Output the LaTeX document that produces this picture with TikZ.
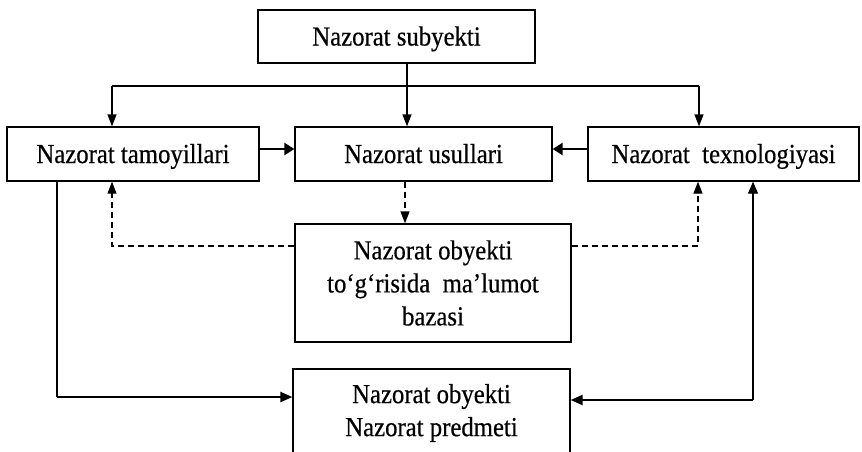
\documentclass[tikz,border=0pt]{standalone}
\usepackage{fontspec}
\setmainfont{Liberation Serif}[FakeStretch=0.9,FakeBold=0.5]
\usetikzlibrary{arrows.meta}
\begin{document}
\begin{tikzpicture}[x=1pt,y=-1pt,
  box/.style={draw,line width=1.3pt,inner sep=0pt,align=center,
    font=\fontsize{27.5}{33}\selectfont},
  oneline/.style={text height=18pt,text depth=0pt},
  link/.style={line width=1.3pt,-{Triangle[length=12pt,width=9pt]}},
  boldlink/.style={line width=2.8pt,-{Triangle[length=10pt,width=12pt]}},
  objlink/.style={line width=2.2pt,-{Triangle[length=12pt,width=10pt]}},
  infolink/.style={line width=1.3pt,dash pattern=on 6pt off 4pt,-{Triangle[length=12pt,width=9pt]}}
]
\useasboundingbox (0,0) rectangle (862,451);
\clip (0,0) rectangle (862,451);

% boxes
\node[box,oneline,minimum width=277,minimum height=53] (subj) at (396.5,36.5) {Nazorat subyekti};
\node[box,oneline,minimum width=252,minimum height=54] (princ) at (133,154) {Nazorat tamoyillari};
\node[box,oneline,minimum width=257,minimum height=54] (meth) at (423.5,154) {Nazorat usullari};
\node[box,oneline,minimum width=271,minimum height=54] (tech) at (723.5,154) {Nazorat~~texnologiyasi};
\node[box,minimum width=276,minimum height=118] (base) at (433,283)
  {Nazorat obyekti\\to‘g‘risida~~ma’lumot\\bazasi};
\node[box,minimum width=277,minimum height=88] (obj) at (431.5,413)
  {Nazorat obyekti\\Nazorat predmeti};

% distribution from the subject
\coordinate (hub) at (407,86);
\coordinate (hl) at (112,86);
\coordinate (hr) at (699,86);
\draw[line width=1.3pt] (subj.south -| hub) -- (hub);
\draw[line width=1.3pt] (hl) -- (hr);
\draw[link] (hub) -- (meth.north -| hub);
\draw[link] (hl) -- (princ.north -| hl);
\draw[link] (hr) -- (tech.north -| hr);

% links between the middle row
\coordinate (rowy) at (0,149);
\draw[boldlink] (princ.east |- rowy) -- (meth.west |- rowy);
\draw[boldlink] (tech.west |- rowy) -- (meth.east |- rowy);

% information base links
\coordinate (dx) at (405,0);
\coordinate (dl) at (112,246);
\coordinate (dr) at (698,246);
\draw[infolink] (meth.south -| dx) -- (base.north -| dx);
\draw[infolink] (base.west |- dl) -| (princ.south -| dl);
\draw[infolink] (base.east |- dr) -| (tech.south -| dr);

% links to and from the object
\coordinate (ol) at (57,397);
\coordinate (or) at (753,400);
\draw[line width=1.3pt] (princ.south -| ol) -- (ol);
\draw[objlink] (ol) -- (obj.west |- ol);
\draw[line width=1.3pt,-{Triangle[length=12pt,width=10pt]}] (or) -- (tech.south -| or);
\draw[objlink] (or) -- (obj.east |- or);
\end{tikzpicture}
\end{document}
